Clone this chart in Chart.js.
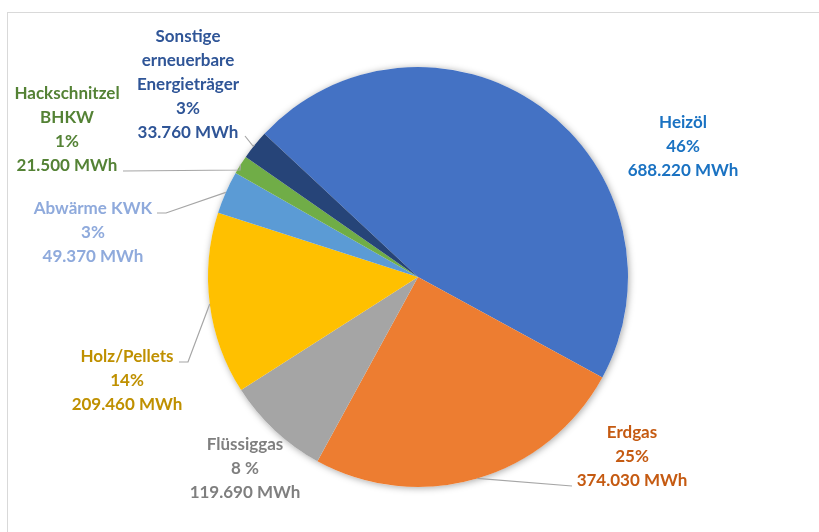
<!DOCTYPE html>
<html>
<head>
<meta charset="utf-8">
<script src="https://cdn.jsdelivr.net/npm/chart.js@4"></script>
<style>
  html, body { margin: 0; padding: 0; background: #fff; overflow: hidden; }
  #wrap { position: relative; width: 819px; height: 532px; }
  #frame { position: absolute; left: 7px; top: 12px; width: 900px; height: 600px; border: 1px solid #d9d9d9; }
  #pieChart { position: absolute; left: 0; top: 0; }
</style>
</head>
<body>
<div id="wrap">
  <div id="frame"></div>
  <canvas id="pieChart" width="819" height="532"></canvas>
</div>
<script>
// data
var categories = ["Heizöl", "Erdgas", "Flüssiggas", "Holz/Pellets", "Abwärme KWK", "Hackschnitzel BHKW", "Sonstige erneuerbare Energieträger"];
var nameLines = [["Heizöl"], ["Erdgas"], ["Flüssiggas"], ["Holz/Pellets"], ["Abwärme KWK"], ["Hackschnitzel", "BHKW"], ["Sonstige", "erneuerbare", "Energieträger"]];
var mwh = [688220, 374030, 119690, 209460, 49370, 21500, 33760];
var percentLabels = ["46%", "25%", "8 %", "14%", "3%", "1%", "3%"];

var sliceColors = ["#4472C4", "#ED7D31", "#A5A5A5", "#FFC000", "#5B9BD5", "#70AD47", "#264478"];
var textColors = ["#1A72C2", "#C55A11", "#7F7F7F", "#BF9000", "#8FAADC", "#548235", "#2F5597"];

// label placement relative to pie centre (first line centre) and leader points
var labelOffsets = [[265, -154], [214, 156], [-173, 168], [-291, 80], [-325, -68], [-351, -183], [-230, -240]];
var leaders = [
  null,
  [[154, 209]],
  null,
  [[-230, 85], [-239, 85]],
  [[-252, -64], [-261, -64]],
  [[-178, -107], [-295, -106]],
  [[-165, -131], [-173, -141]]
];

var labelPlugin = {
  id: 'outLabels',
  beforeDatasetsDraw: function(chart) {
    var arc = chart.getDatasetMeta(0).data[0];
    var ctx = chart.ctx;
    ctx.save();
    ctx.shadowColor = 'rgba(0,0,0,0.35)';
    ctx.shadowBlur = 7;
    ctx.shadowOffsetX = 1;
    ctx.shadowOffsetY = 1;
    ctx.fillStyle = '#ffffff';
    ctx.beginPath();
    ctx.arc(arc.x, arc.y, arc.outerRadius, 0, Math.PI * 2);
    ctx.fill();
    ctx.restore();
  },
  afterDatasetsDraw: function(chart) {
    var ctx = chart.ctx;
    var arcs = chart.getDatasetMeta(0).data;
    ctx.save();
    arcs.forEach(function(a, i) {
      var cx = a.x, cy = a.y;
      if (leaders[i]) {
        var mid = (a.startAngle + a.endAngle) / 2;
        ctx.strokeStyle = '#A6A6A6';
        ctx.lineWidth = 1.2;
        ctx.beginPath();
        ctx.moveTo(cx + Math.cos(mid) * a.outerRadius, cy + Math.sin(mid) * a.outerRadius);
        leaders[i].forEach(function(p) { ctx.lineTo(cx + p[0], cy + p[1]); });
        ctx.stroke();
      }
      var lines = nameLines[i].concat([percentLabels[i], mwh[i].toLocaleString('de-DE') + ' MWh']);
      ctx.fillStyle = textColors[i];
      ctx.font = 'bold 17px Lato';
      ctx.textAlign = 'center';
      ctx.textBaseline = 'middle';
      lines.forEach(function(t, k) {
        ctx.fillText(t, cx + labelOffsets[i][0], cy + labelOffsets[i][1] + k * 24);
      });
    });
    ctx.restore();
  }
};

var ctx = document.getElementById("pieChart").getContext("2d");
var myChart = new Chart(ctx, {
  type: 'pie',
  data: {
    labels: categories,
    datasets: [{
      data: mwh,
      backgroundColor: sliceColors,
      borderWidth: 0
    }]
  },
  options: {
    responsive: false,
    animation: false,
    rotation: -47,
    layout: {
      padding: { top: 67, bottom: 45, left: 17, right: 0 }
    },
    plugins: {
      legend: { display: false },
      tooltip: { enabled: false }
    }
  },
  plugins: [labelPlugin]
});
</script>
</body>
</html>
